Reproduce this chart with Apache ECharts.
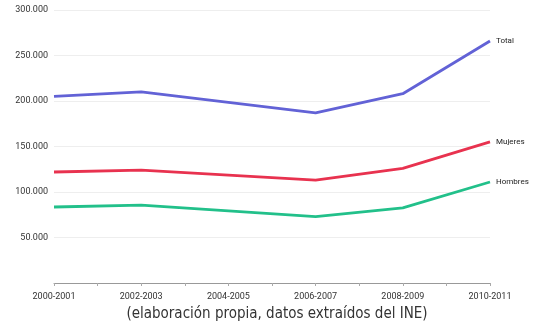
<!DOCTYPE html>
<html>
<head>
<meta charset="utf-8">
<script src="https://cdn.jsdelivr.net/npm/echarts@6/dist/echarts.min.js"></script>
<style>
  html, body { margin: 0; padding: 0; background: #fff; }
  #chart { width: 533px; height: 331px; }
</style>
</head>
<body>
<div id="chart"></div>
<script>
// school years on the x axis
const years = ['2000-2001', '2001-2002', '2002-2003', '2003-2004', '2004-2005', '2005-2006',
    '2006-2007', '2007-2008', '2008-2009', '2009-2010', '2010-2011'];
// values only read at the even years, the line joins them
const total = [205000, null, 210000, null, null, null, 187000, null, 208000, null, 266000];
const mujeres = [122000, null, 124000, null, null, null, 113000, null, 126000, null, 155000];
const hombres = [83500, null, 85500, null, null, null, 73000, null, 82500, null, 111000];
const caption = '(elaboración propia, datos extraídos del INE)';

let chart = echarts.init(document.getElementById('chart'));

const fmt = v => v === 0 ? '' : v.toLocaleString('de-DE');

function line(name, data, color) {
    return {
        name: name,
        type: 'line',
        data: data,
        connectNulls: true,
        symbol: 'none',
        lineStyle: { color: color, width: 2.8 },
        itemStyle: { color: color },
        endLabel: {
            show: true,
            formatter: '{a}',
            color: '#222',
            fontSize: 8,
            fontFamily: 'Roboto',
            distance: 6
        },
        emphasis: { disabled: true }
    };
}

let option = {
    animation: false,
    title: {
        text: caption,
        left: 272,
        textAlign: 'center',
        bottom: 4,
        textStyle: {
            fontSize: 15,
            fontWeight: 'normal',
            color: '#333',
            fontFamily: '"DejaVu Sans Condensed", "Liberation Sans Narrow", Roboto'
        }
    },
    grid: { left: 54, right: 43, top: 10, bottom: 48 },
    xAxis: {
        type: 'category',
        data: years,
        boundaryGap: false,
        axisLine: { lineStyle: { color: '#999', width: 1 } },
        axisTick: { show: true, interval: 0, length: 3, lineStyle: { color: '#aaa' } },
        axisLabel: {
            interval: 1,
            color: '#333',
            fontSize: 9,
            fontFamily: 'Roboto',
            margin: 9
        }
    },
    yAxis: {
        type: 'value',
        min: 0,
        max: 300000,
        interval: 50000,
        axisLine: { show: false },
        axisTick: { show: false },
        splitLine: { lineStyle: { color: '#eee' } },
        axisLabel: {
            formatter: fmt,
            color: '#333',
            fontSize: 9,
            fontFamily: 'Roboto',
            margin: 6
        }
    },
    series: [
        line('Total', total, '#6262d6'),
        line('Mujeres', mujeres, '#e8324f'),
        line('Hombres', hombres, '#22c08a')
    ]
};

chart.setOption(option);
</script>
</body>
</html>
